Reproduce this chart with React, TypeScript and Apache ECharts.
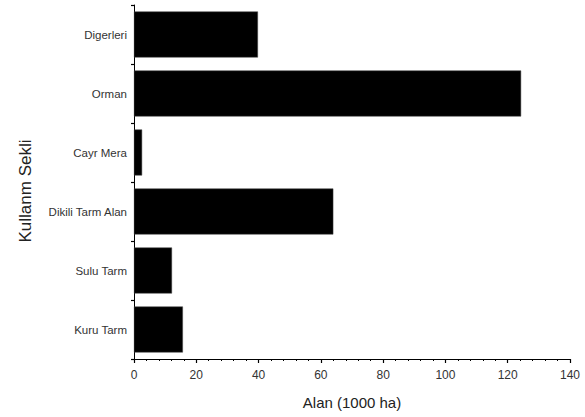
import React, { useEffect, useRef } from "react";
import * as echarts from "echarts";

const categories = ["Kuru Tarm", "Sulu Tarm", "Dikili Tarm Alan", "Cayr Mera", "Orman", "Digerleri"];
const values = [15.7, 12.2, 64, 2.6, 124.3, 39.8];
const xName = "Alan (1000 ha)";
const yName = "Kullanm Sekli";

export default function App() {
  const ref = useRef<HTMLDivElement>(null);
  useEffect(() => {
    const chart = echarts.init(ref.current!, null, { renderer: "svg" });
    chart.setOption({
      animation: false,
      grid: { left: 134, right: 15, top: 5, bottom: 58 },
      graphic: [
        {
          type: "text",
          x: 25,
          y: 191,
          rotation: Math.PI / 2,
          style: {
            text: yName,
            fontFamily: "Liberation Sans",
            fontSize: 17,
            fill: "#222",
            textAlign: "center",
            textVerticalAlign: "middle",
          },
        },
      ],
      xAxis: {
        type: "value",
        min: 0,
        max: 140,
        interval: 20,
        name: xName,
        nameLocation: "middle",
        nameGap: 36,
        nameTextStyle: { fontFamily: "Liberation Sans", fontSize: 15, color: "#222" },
        axisLine: { show: true, lineStyle: { color: "#000", width: 1 } },
        axisTick: { show: true, length: 4, lineStyle: { color: "#000", width: 1.2 } },
        minorTick: { show: true, splitNumber: 5, length: 2, lineStyle: { color: "#000" } },
        splitLine: { show: false },
        axisLabel: { fontFamily: "Liberation Sans", fontSize: 12, color: "#333", margin: 10 },
      },
      yAxis: {
        type: "category",
        data: categories,
        axisLine: { show: true, lineStyle: { color: "#000", width: 1 } },
        axisTick: { show: true, length: 3, lineStyle: { color: "#000", width: 1.2 } },
        axisLabel: { fontFamily: "Liberation Sans", fontSize: 11.5, color: "#333", margin: 7 },
      },
      series: [
        {
          type: "bar",
          data: values,
          barCategoryGap: "22%",
          itemStyle: { color: "#000", borderColor: "#444", borderWidth: 0.5 },
        },
      ],
    });
    return () => chart.dispose();
  }, []);
  return <div ref={ref} style={{ width: 585, height: 417, position: "absolute", left: 0, top: 0 }} />;
}
